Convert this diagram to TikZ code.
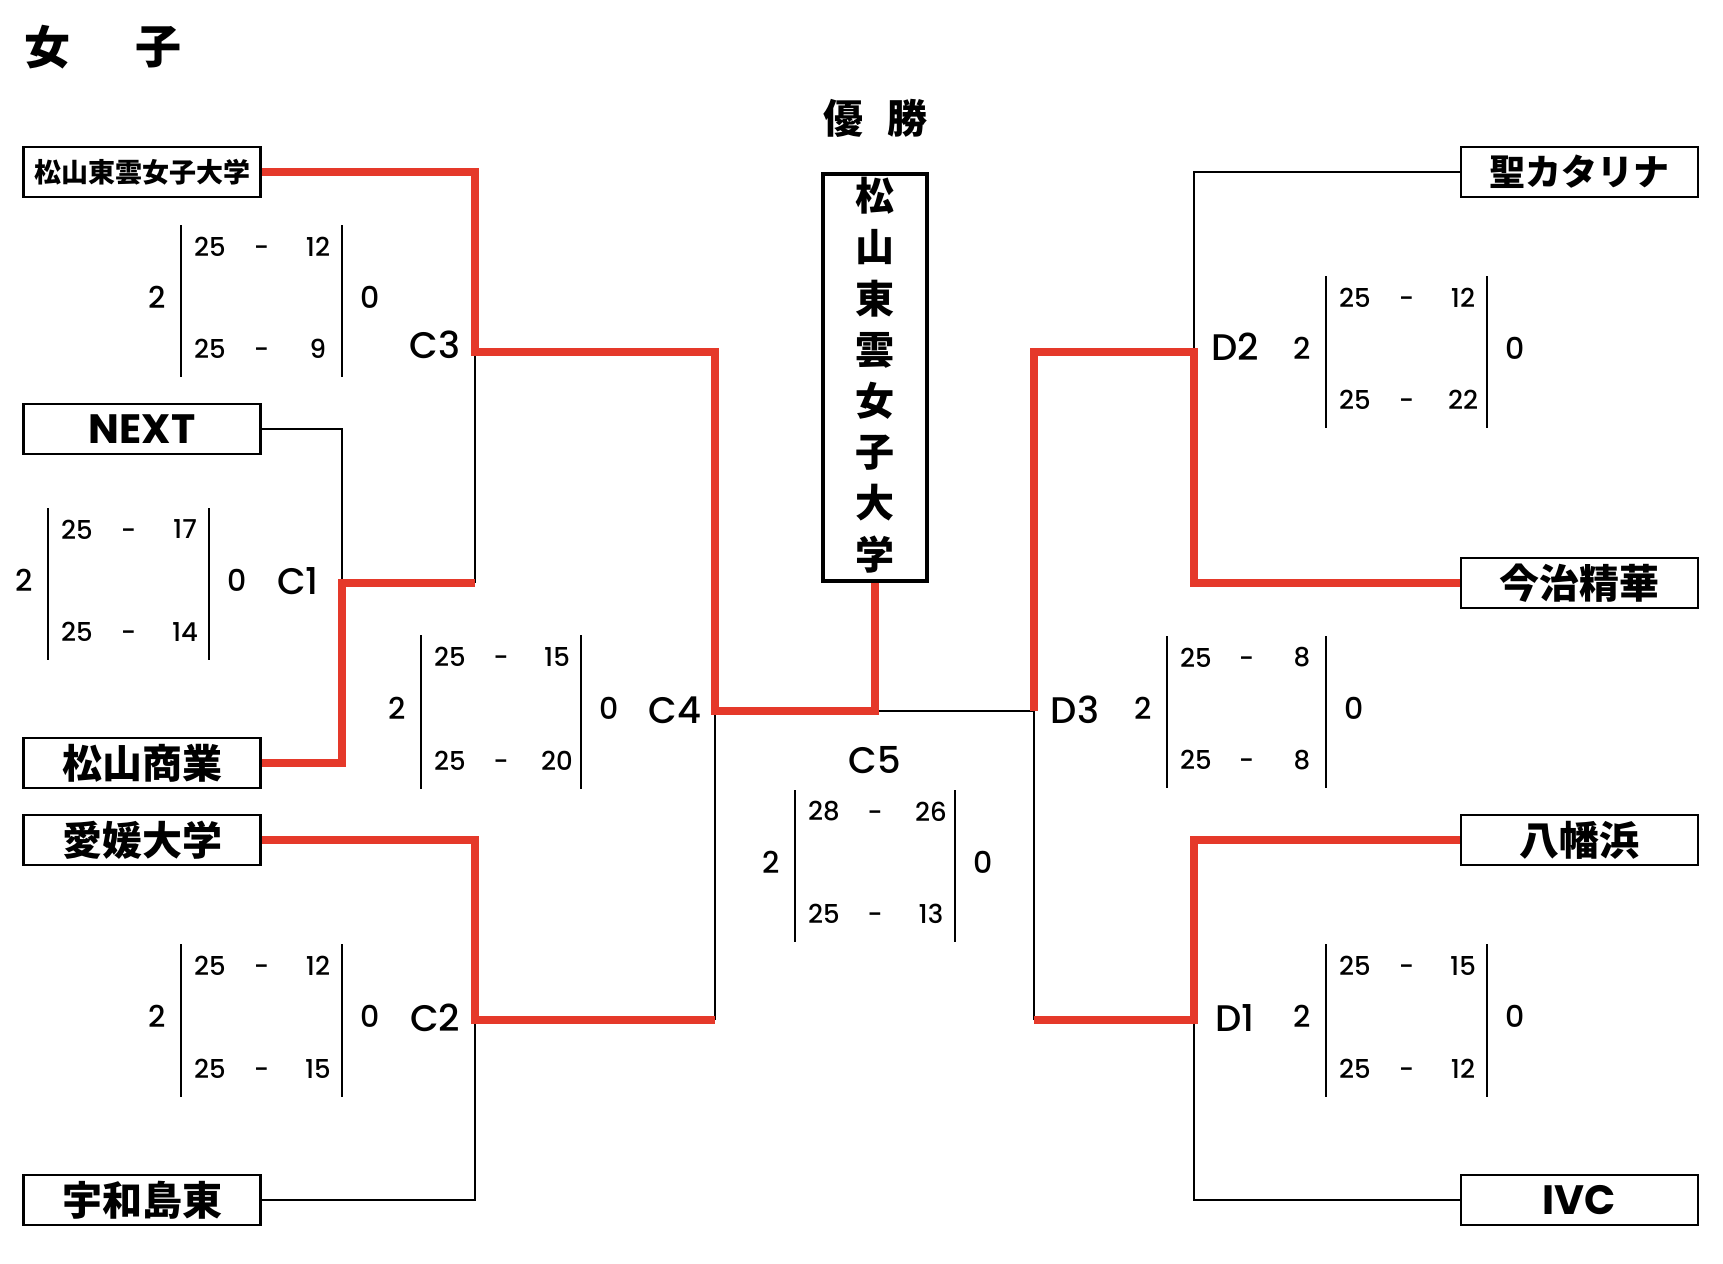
\documentclass[tikz,border=0pt]{standalone}
\usepackage{fontspec}
\setmainfont{Poppins Medium}
\newfontfamily\latb{Poppins}
\newfontfamily\jp{Noto Sans CJK JP}
\definecolor{winred}{RGB}{229,57,42}
\tikzset{
  team/.style={draw=black, fill=white, line width=2.5pt, minimum width=237pt, minimum height=50pt, inner sep=0pt, font=\jp\bfseries},
  winline/.style={draw=winred, line width=7.5pt},
  loseline/.style={draw=black, line width=2pt},
  rlabel/.style={font=\fontsize{37}{37}\selectfont, inner sep=0pt},
  sdig/.style={font=\fontsize{26}{26}\selectfont, inner sep=0pt},
  sset/.style={font=\fontsize{30}{30}\selectfont, inner sep=0pt},
  sbar/.style={draw=black, line width=2.2pt},
  bigjp/.style={font=\jp\bfseries\fontsize{46}{46}\selectfont, inner sep=0pt},
}
\newcommand\scorebr[9]{%
  \draw[sbar] (#2,#4) -- (#2,#5);
  \draw[sbar] (#3,#4) -- (#3,#5);
  \node[sset] (#1w) at (#2-24, {(#4+#5)/2-4}) {2};
  \node[sset] (#1l) at (#3+28, {(#4+#5)/2-4}) {0};
  \node[sdig] (#1ta) at (#2+29, #4+21.5) {#6};
  \node[sdig] (#1td) at ({(#2+#3)/2}, #4+21.5) {\vphantom{0}-};
  \node[sdig] (#1tb) at (#3-24, #4+21.5) {#7};
  \node[sdig] (#1ba) at (#2+29, #5-28) {#8};
  \node[sdig] (#1bd) at ({(#2+#3)/2}, #5-28) {\vphantom{0}-};
  \node[sdig] (#1bb) at (#3-24, #5-28) {#9};
}
\begin{document}
\begin{tikzpicture}[x=1pt,y=-1pt]
\fill[white] (0,0) rectangle (1723,1263);
\useasboundingbox (0,0) rectangle (1723,1263);

% title
\node[bigjp] (tj1) at (47,47) {女};
\node[bigjp] (tj2) at (158,47) {子};
\node[bigjp, font=\jp\bfseries\fontsize{40}{40}\selectfont] (yu1) at (843,118) {優};
\node[bigjp, font=\jp\bfseries\fontsize{40}{40}\selectfont] (yu2) at (907,118) {勝};

% junctions
\coordinate (C1) at (342,583);
\coordinate (C3) at (475,352);
\coordinate (C2) at (475,1020);
\coordinate (C4) at (715,711);
\coordinate (C5) at (875,711);
\coordinate (D2) at (1194,352);
\coordinate (D1) at (1194,1020);
\coordinate (D3) at (1034,711);

% champion box
\node[draw=black, line width=4.5pt, minimum width=104pt, minimum height=407pt, inner sep=0pt] (champ) at (875,377.5) {};
\node[font=\jp\bfseries\fontsize{39}{51.2}\selectfont, align=center, inner sep=0pt] (champtxt) at (875,375)
  {松\\山\\東\\雲\\女\\子\\大\\学};

% team boxes
\node[team] (t1) at (142,172) {\fontsize{27}{27}\selectfont 松山東雲女子大学};
\node[team] (t2) at (142,429) {\latb\bfseries\fontsize{41}{41}\selectfont NEXT};
\node[team] (t3) at (142,763) {\fontsize{40}{40}\selectfont 松山商業};
\node[team] (t4) at (142,840) {\fontsize{40}{40}\selectfont 愛媛大学};
\node[team] (t5) at (142,1200) {\fontsize{40}{40}\selectfont 宇和島東};
\node[team] (r1) at (1579.5,172) {\fontsize{36}{36}\selectfont 聖カタリナ};
\node[team] (r2) at (1579.5,583) {\fontsize{40}{40}\selectfont 今治精華};
\node[team] (r3) at (1579.5,840) {\fontsize{40}{40}\selectfont 八幡浜};
\node[team] (r4) at (1579.5,1200) {\latb\bfseries\fontsize{41}{41}\selectfont IVC};

% losing connectors
\draw[loseline] (t2.east) -| (C1);
\draw[loseline] (C1 -| C3) -- (C3);
\draw[loseline] (t5.east) -| (C2);
\draw[loseline] (C2 -| C4) -- (C4);
\draw[loseline] (D3) -- (C5);
\draw[loseline] (r1.west) -| (D2);
\draw[loseline] (r4.west) -| (D1);
\draw[loseline] (D1 -| D3) -- (D3);

% winning connectors
\draw[winline] (t1.east) -| (C3) -| (C4) -- (C5) -- (champ.south);
\draw[winline] (t3.east) -| (C1) -- (C1 -| C3);
\draw[winline] (t4.east) -| (C2) -- (C2 -| C4);
\draw[winline] (r2.west) -| (D2) -| (D3);
\draw[winline] (r3.west) -| (D1) -- (D1 -| D3);

% round labels
\node[rlabel] (lC3) at (435,345) {C3};
\node[rlabel] (lC1) at (298,581) {C1};
\node[rlabel] (lC4) at (675,710) {C4};
\node[rlabel] (lC2) at (435,1018) {C2};
\node[rlabel] (lC5) at (875,760) {C5};
\node[rlabel] (lD2) at (1235,347) {D2};
\node[rlabel] (lD3) at (1075,710) {D3};
\node[rlabel] (lD1) at (1235,1018) {D1};

% scores
\scorebr{sC3}{181}{342}{225}{377}{25}{12}{25}{9}
\scorebr{sC1}{48}{209}{508}{660}{25}{17}{25}{14}
\scorebr{sC4}{421}{581}{635}{789}{25}{15}{25}{20}
\scorebr{sC2}{181}{342}{944}{1097}{25}{12}{25}{15}
\scorebr{sC5}{795}{955}{790}{942}{28}{26}{25}{13}
\scorebr{sD2}{1326}{1487}{276}{428}{25}{12}{25}{22}
\scorebr{sD3}{1167}{1326}{636}{788}{25}{8}{25}{8}
\scorebr{sD1}{1326}{1487}{944}{1097}{25}{15}{25}{12}
\end{tikzpicture}
\end{document}
